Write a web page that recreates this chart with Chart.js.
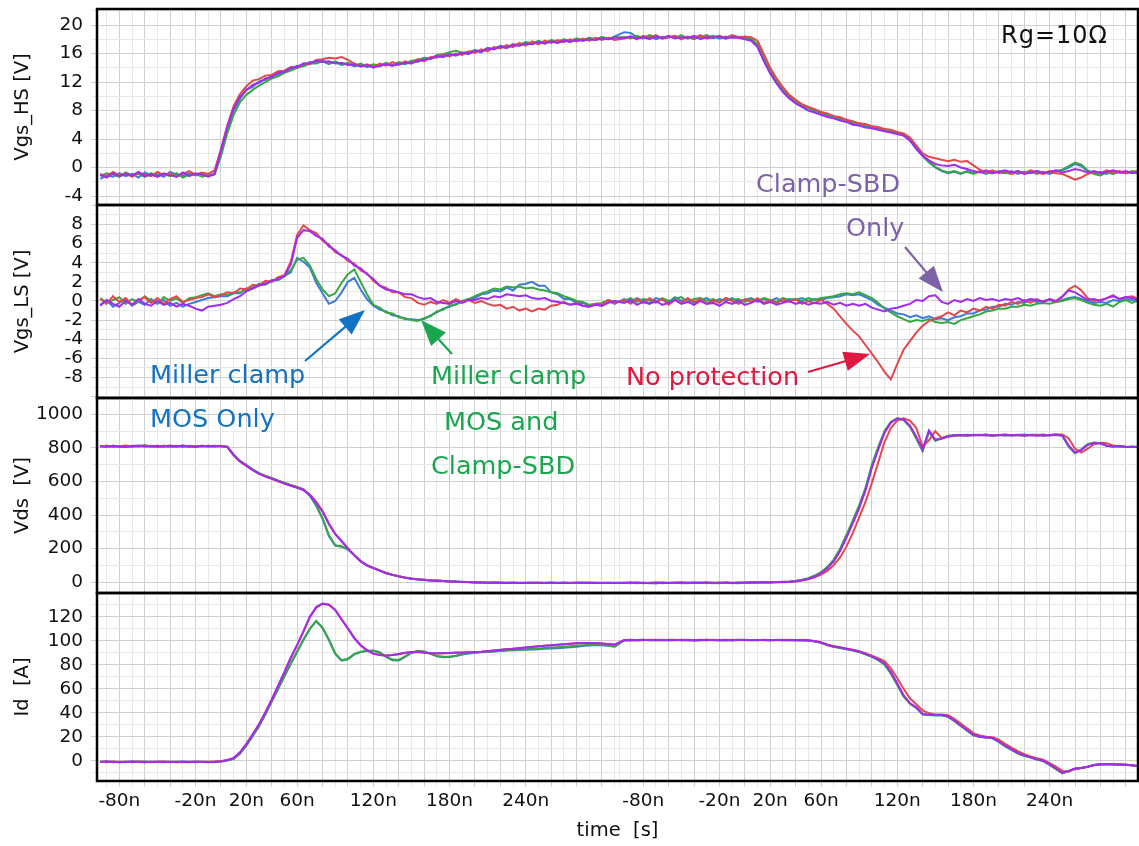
<!DOCTYPE html>
<html>
<head>
<meta charset="utf-8">
<script src="https://cdn.jsdelivr.net/npm/chart.js@4.4.0/dist/chart.umd.min.js"></script>
<style>
  html, body { margin: 0; padding: 0; background: #fff; }
  #wrap { position: relative; width: 1139px; height: 846px; overflow: hidden; background: #fff; font-family: 'DejaVu Sans', sans-serif; }
  #wrap canvas { position: absolute; left: 0; }
  .note { position: absolute; font-size: 25.5px; line-height: 25px; white-space: nowrap; }
  #arrows { position: absolute; left: 0; top: 0; }
</style>
</head>
<body>
<div id="wrap">
  <canvas id="hs" width="1139" height="207" style="top:0px"></canvas>
  <canvas id="ls" width="1139" height="197" style="top:203px"></canvas>
  <canvas id="vds" width="1139" height="199" style="top:396px"></canvas>
  <canvas id="id" width="1139" height="255" style="top:591px"></canvas>
  <svg id="arrows" width="1139" height="846"></svg>
  <div class="note" style="left:1001px;top:23px;font-size:24px;letter-spacing:1px;color:#111">Rg=10Ω</div>
  <div class="note" style="left:756px;top:171px;color:#7d62a8">Clamp-SBD</div>
  <div class="note" style="left:846px;top:215px;color:#7d62a8">Only</div>
  <div class="note" style="left:150px;top:362px;color:#1272c4">Miller clamp</div>
  <div class="note" style="left:150px;top:406px;color:#1272c4">MOS Only</div>
  <div class="note" style="left:431px;top:363px;color:#19a64f">Miller clamp</div>
  <div class="note" style="left:444px;top:409px;color:#19a64f">MOS and</div>
  <div class="note" style="left:431px;top:453px;color:#19a64f">Clamp-SBD</div>
  <div class="note" style="left:626px;top:364px;color:#e0173f">No protection</div>
</div>
<script>
// sample times (ns) inside each capture window; the turn-off window sits after the turn-on one
const T = [-95,-90,-85,-80,-75,-70,-65,-60,-55,-50,-45,-40,-35,-30,-25,-20,-15,-10,-5,0,
  5,10,15,20,25,30,35,40,45,50,55,60,65,70,75,80,85,90,95,100,
  105,110,115,120,125,130,135,140,145,150,155,160,165,170,175,180,185,190,195,200,
  205,210,215,220,225,230,235,240,245,250,255,260,265,270,275,280,285,290,295,300,
  305,310]
const OFF_SHIFT = 412.5   // turn-off window starts right after the turn-on one
const BREAK = 314
const X_MIN = -97.6
const X_MAX = 722.1
const X_LABEL_TIMES = [-80, -20, 20, 60, 120, 180, 240]

// Vgs high side [V]
const HS_ON_R = [-0.9,-1.2,-0.6,-1.1,-0.8,-1.3,-0.7,-1.0,-1.2,-0.6,
  -1.1,-0.8,-1.3,-0.9,-0.5,-1.0,-0.7,-0.9,-0.4,2.6,
  5.9,8.6,10.3,11.4,12.2,12.4,12.9,13.0,13.5,13.6,
  14.1,14.0,14.6,14.5,15.1,15.2,15.4,15.3,15.5,15.1,
  14.6,14.2,14.5,14.1,14.6,14.3,14.8,14.4,14.9,14.6,
  15.2,14.9,15.5,15.4,15.9,15.6,16.0,15.8,16.3,16.1,
  16.6,16.3,16.9,16.7,17.2,16.9,17.5,17.1,17.7,17.3,
  17.8,17.5,17.9,17.6,18.0,17.7,18.1,17.8,18.2,17.9,
  18.2,17.9]
const HS_ON_B = [-1.6,-1.1,-1.3,-0.8,-1.2,-0.9,-1.4,-0.7,-1.1,-0.9,
  -1.3,-0.6,-1.0,-1.2,-0.8,-1.1,-0.9,-1.2,-0.8,2.2,
  5.5,8.0,9.7,10.9,11.3,12.1,12.3,12.9,13.0,13.6,
  13.8,14.3,14.3,14.8,14.7,15.0,14.6,14.8,14.4,14.6,
  14.2,14.5,14.1,14.4,14.2,14.6,14.3,14.7,14.5,14.9,
  14.8,15.3,15.2,15.7,15.5,15.9,15.7,16.1,15.9,16.4,
  16.2,16.7,16.6,17.0,16.8,17.3,17.1,17.5,17.3,17.7,
  17.4,17.8,17.5,17.9,17.6,18.1,17.8,18.1,17.9,18.3,
  18.0,18.4]
const HS_ON_G = [-1.2,-0.8,-1.0,-1.3,-0.7,-1.1,-0.9,-1.3,-0.8,-1.2,
  -0.9,-1.2,-0.8,-1.4,-1.0,-0.9,-1.3,-1.1,-1.0,1.6,
  4.8,7.4,9.2,10.2,10.9,11.5,12.0,12.5,12.8,13.3,
  13.6,14.0,14.2,14.6,14.6,14.9,14.5,14.9,14.5,14.7,
  14.3,14.6,14.2,14.5,14.3,14.7,14.4,14.8,14.6,15.0,
  15.1,15.4,15.3,15.8,15.9,16.2,16.4,16.1,16.2,16.5,
  16.3,16.8,16.6,17.1,16.9,17.3,17.2,17.6,17.4,17.8,
  17.5,17.9,17.7,18.0,17.8,18.1,17.9,18.2,18.0,18.3,
  18.1,18.3]
const HS_ON_P = [-1.0,-1.4,-0.8,-1.2,-0.9,-1.1,-0.6,-1.2,-1.0,-1.3,
  -0.8,-1.1,-1.3,-0.7,-1.2,-0.8,-1.0,-1.3,-0.9,2.4,
  5.7,8.3,9.9,10.9,11.6,11.9,12.5,12.7,13.3,13.4,
  14.0,14.1,14.6,14.6,15.0,14.8,14.9,14.6,14.7,14.4,
  14.5,14.2,14.4,14.0,14.3,14.5,14.3,14.5,14.7,14.6,
  15.0,15.1,15.3,15.6,15.6,15.9,15.8,16.1,16.0,16.4,
  16.3,16.7,16.6,17.0,16.8,17.2,17.1,17.4,17.3,17.6,
  17.4,17.7,17.5,17.8,17.7,17.9,17.8,18.0,17.9,18.1,
  18.0,18.2]
const HS_OFF_R = [18.1,18.4,18.0,18.5,18.2,18.6,18.1,18.3,18.5,18.0,
  18.4,18.2,18.6,18.1,18.3,18.5,18.2,18.6,18.3,18.4,
  18.3,17.8,15.9,14.0,12.5,11.3,10.2,9.5,8.9,8.5,
  8.2,7.8,7.6,7.2,7.1,6.7,6.5,6.2,6.1,5.8,
  5.7,5.4,5.3,5.0,4.8,4.2,3.1,2.0,1.5,1.3,
  1.1,0.9,1.1,0.8,0.9,0.3,-0.3,-0.7,-0.4,-0.8,
  -0.5,-0.9,-0.6,-0.8,-0.4,-0.7,-0.9,-0.5,-0.8,-0.9,
  -1.3,-1.7,-1.4,-0.9,-0.6,-0.8,-0.4,-0.7,-0.5,-0.8,
  -0.6,-0.5]
const HS_OFF_B = [19.0,18.9,18.3,18.1,18.4,18.0,18.3,18.2,18.5,18.1,
  18.3,18.0,18.4,18.2,18.5,18.1,18.4,18.2,18.3,18.1,
  18.0,17.2,15.1,13.4,11.9,10.8,9.9,9.3,8.6,8.4,
  7.9,7.8,7.3,7.2,6.8,6.7,6.2,6.2,5.8,5.8,
  5.4,5.4,5.0,4.9,4.5,3.8,2.6,1.6,0.7,0.0,
  -0.5,-0.8,-0.6,-0.9,-0.5,-0.8,-0.6,-0.9,-0.5,-0.7,
  -0.8,-0.5,-0.9,-0.6,-0.8,-0.5,-0.7,-0.9,-0.6,-0.4,
  0.0,0.5,0.2,-0.5,-0.8,-0.6,-0.9,-0.5,-0.7,-0.8,
  -0.6,-0.9]
const HS_OFF_G = [18.3,18.1,18.5,18.2,18.6,18.3,18.1,18.4,18.2,18.6,
  18.1,18.4,18.3,18.6,18.2,18.4,18.1,18.5,18.3,18.2,
  18.1,17.3,15.3,13.5,12.1,10.9,10.0,9.2,8.8,8.3,
  8.1,7.6,7.5,7.0,7.0,6.5,6.4,6.0,6.0,5.6,
  5.6,5.2,5.2,4.7,4.6,3.9,2.8,1.7,0.8,0.1,
  -0.4,-0.7,-0.5,-0.8,-0.6,-0.9,-0.5,-0.7,-0.8,-0.5,
  -0.7,-0.9,-0.5,-0.8,-0.6,-0.9,-0.6,-0.8,-0.5,-0.3,
  0.2,0.7,0.4,-0.4,-0.9,-1.1,-0.7,-0.9,-0.6,-0.8,
  -0.5,-0.7]
const HS_OFF_P = [18.2,18.4,18.1,18.3,18.0,18.4,18.2,18.5,18.1,18.3,
  18.2,18.5,18.0,18.3,18.2,18.4,18.1,18.3,18.2,18.0,
  17.8,16.9,14.9,13.2,11.8,10.6,9.7,9.0,8.5,8.0,
  7.7,7.4,7.1,6.9,6.6,6.4,6.0,5.9,5.6,5.5,
  5.3,5.1,4.9,4.7,4.5,3.8,2.7,1.7,1.0,0.5,
  0.3,0.2,0.4,0.0,-0.2,-0.5,-0.7,-0.4,-0.8,-0.6,
  -0.4,-0.7,-0.5,-0.9,-0.7,-0.5,-0.8,-0.6,-0.4,-0.7,
  -0.5,-0.2,-0.4,-0.7,-0.5,-0.8,-0.6,-0.4,-0.7,-0.5,
  -0.8,-0.6]

// Vgs low side [V]
const LS_ON_R = [0.2,-0.3,0.5,-0.1,0.3,-0.4,0.1,0.4,-0.2,0.3,
  -0.3,0.2,0.5,-0.1,0.1,0.3,0.4,0.7,0.4,0.6,
  0.9,0.8,1.3,1.2,1.7,1.6,2.1,2.0,2.5,2.7,
  4.1,6.9,7.9,7.4,7.1,6.3,5.9,5.1,4.8,4.2,
  3.9,3.2,2.9,2.1,1.6,1.4,0.9,0.9,0.4,0.3,
  -0.2,-0.4,-0.1,-0.3,0.1,-0.2,0.2,-0.1,0.1,-0.2,
  0.0,-0.3,-0.5,-0.4,-0.8,-0.6,-1.0,-0.8,-1.1,-0.8,
  -0.9,-0.5,-0.4,-0.1,-0.4,-0.2,-0.5,-0.6,-0.3,-0.4,
  0.1,-0.2]
const LS_ON_B = [-0.4,0.1,-0.6,-0.2,0.2,-0.5,-0.1,-0.4,0.2,-0.3,
  0.1,-0.5,-0.2,-0.6,-0.3,-0.1,0.1,0.3,0.4,0.5,
  0.5,0.8,0.8,1.3,1.4,1.8,1.8,2.2,2.2,2.6,
  3.0,4.5,4.1,3.5,1.9,0.8,-0.3,0.0,0.9,2.0,
  2.4,1.2,0.2,-0.5,-0.9,-1.1,-1.5,-1.6,-1.9,-1.9,
  -2.0,-1.9,-1.5,-1.2,-0.8,-0.6,-0.3,-0.1,0.2,0.3,
  0.7,0.8,1.1,1.0,1.4,1.1,1.7,1.8,2.0,1.6,
  1.6,0.9,0.7,0.2,0.2,-0.2,-0.2,-0.5,-0.4,-0.5,
  0.0,-0.3]
const LS_ON_G = [0.3,-0.2,0.1,0.4,-0.3,0.2,-0.1,0.5,0.0,-0.3,
  0.4,0.0,0.3,-0.2,0.3,0.4,0.6,0.8,0.5,0.7,
  0.6,0.9,0.9,1.2,1.3,1.7,1.7,2.1,2.2,2.6,
  3.2,4.3,4.5,3.7,2.3,1.2,0.5,0.8,1.9,2.8,
  3.3,2.0,0.7,-0.4,-0.7,-1.2,-1.3,-1.7,-1.8,-2.0,
  -2.1,-1.8,-1.6,-1.1,-0.9,-0.5,-0.4,0.0,0.2,0.5,
  0.8,1.0,1.3,1.2,1.5,1.4,1.5,1.3,1.4,1.2,
  1.1,0.9,0.8,0.5,0.3,0.0,-0.1,-0.4,-0.3,-0.2,
  0.1,-0.1]
const LS_ON_P = [-0.5,0.1,-0.3,-0.6,0.0,-0.4,0.2,-0.3,-0.5,0.0,
  -0.4,-0.2,-0.6,-0.3,-0.5,-0.8,-1.0,-0.6,-0.5,-0.4,
  -0.2,0.2,0.5,1.0,1.3,1.6,1.8,2.1,2.3,2.6,
  3.8,6.6,7.4,7.3,6.8,6.5,5.7,5.3,4.7,4.4,
  3.7,3.4,2.8,2.3,1.6,1.2,1.1,0.9,0.7,0.7,
  0.4,0.2,0.3,-0.1,-0.2,-0.3,0.0,-0.2,0.1,0.1,
  0.3,0.2,0.5,0.4,0.7,0.6,0.5,0.6,0.3,0.2,
  0.3,0.0,-0.1,-0.2,-0.4,-0.3,-0.5,-0.6,-0.4,-0.5,
  -0.2,0.0]
const LS_OFF_R = [0.1,-0.3,0.2,-0.2,0.3,-0.1,0.2,-0.4,0.1,-0.2,
  0.3,-0.1,0.2,-0.3,0.1,-0.2,0.3,0.0,-0.3,0.2,
  -0.1,0.3,-0.2,0.1,-0.3,0.2,-0.1,0.2,-0.3,0.0,
  -0.2,0.1,-0.3,-0.8,-1.6,-2.4,-3.1,-3.7,-4.6,-5.5,
  -6.4,-7.4,-8.2,-6.6,-5.1,-4.2,-3.3,-2.6,-2.1,-1.8,
  -1.6,-1.2,-1.5,-1.0,-1.2,-0.8,-1.0,-0.6,-0.8,-0.4,
  -0.5,-0.1,-0.3,0.1,-0.2,0.2,-0.1,0.2,-0.1,0.4,
  1.2,1.6,1.1,0.3,0.0,0.1,0.3,0.6,0.2,0.4,
  0.5,0.2]
const LS_OFF_B = [0.2,-0.1,0.3,0.0,-0.2,0.3,0.1,-0.1,0.4,0.0,
  0.2,-0.2,0.1,0.3,-0.1,0.2,0.0,0.3,-0.1,0.1,
  0.3,-0.1,0.2,0.0,0.3,-0.1,0.2,0.1,0.3,0.0,
  0.2,0.1,0.3,0.4,0.5,0.7,0.6,0.7,0.4,0.1,
  -0.4,-0.7,-1.0,-1.3,-1.4,-1.7,-1.5,-1.8,-1.6,-1.9,
  -1.8,-2.0,-1.7,-1.6,-1.3,-1.3,-1.0,-0.9,-0.6,-0.6,
  -0.3,-0.4,-0.1,-0.2,0.1,-0.1,0.0,0.1,-0.1,0.1,
  0.3,0.4,0.2,0.0,-0.2,-0.1,-0.2,0.1,0.0,0.2,
  0.1,-0.1]
const LS_OFF_G = [0.0,0.3,-0.1,0.2,0.1,-0.2,0.3,0.0,0.2,0.4,
  -0.1,0.2,0.3,0.0,0.2,-0.1,0.3,0.1,0.2,-0.1,
  0.2,0.0,0.3,0.1,-0.1,0.3,0.1,0.2,0.0,0.3,
  0.1,0.3,0.4,0.5,0.7,0.8,0.7,0.9,0.6,0.3,
  -0.2,-0.8,-1.2,-1.6,-1.9,-2.2,-2.0,-2.1,-1.9,-2.2,
  -2.3,-2.2,-2.4,-2.0,-1.8,-1.6,-1.4,-1.1,-1.0,-0.8,
  -0.8,-0.6,-0.6,-0.4,-0.5,-0.3,-0.2,-0.3,-0.1,0.0,
  0.2,0.3,0.1,-0.2,-0.4,-0.5,-0.3,-0.6,-0.1,0.1,
  -0.2,0.1]
const LS_OFF_P = [-0.2,0.1,-0.4,-0.1,-0.3,0.0,-0.4,-0.2,0.1,-0.3,
  -0.1,-0.4,0.0,-0.3,-0.2,-0.5,-0.1,-0.3,0.0,-0.4,
  -0.2,0.1,-0.3,-0.1,-0.4,-0.2,0.0,-0.3,-0.1,-0.4,
  -0.2,-0.3,-0.1,-0.4,-0.2,-0.5,-0.3,-0.5,-0.3,-0.7,
  -0.9,-1.1,-0.8,-0.7,-0.5,-0.3,0.1,0.0,0.5,0.6,
  -0.1,-0.3,0.1,-0.1,0.2,0.0,0.3,0.1,0.2,0.0,
  0.2,0.1,0.3,0.0,0.2,0.1,-0.1,0.2,0.0,0.5,
  1.1,0.9,0.5,0.1,0.2,0.0,0.3,0.5,0.2,0.4,
  0.3,0.1]

// Vds [V]
const VDS_ON_R = [808,812,806,810,814,807,811,809,813,806,
  810,814,808,812,807,811,809,813,808,811,
  804,755,718,693,667,646,630,616,601,588,
  576,564,550,522,478,425,350,290,246,203,
  161,126,101,85,70,56,45,36,28,22,
  18,15,12,10,8,5,3,2,1,0,
  -1,-2,-3,-2,-4,-3,-5,-3,-4,-2,
  -4,-3,-5,-4,-3,-5,-4,-2,-4,-3,
  -5,-4]
const VDS_ON_B = [811,807,813,809,805,812,808,814,810,807,
  812,808,811,806,813,809,812,807,810,812,
  806,757,720,696,669,647,632,618,603,590,
  578,566,552,515,455,378,275,218,212,195,
  160,124,99,84,69,54,44,35,27,21,
  17,14,11,9,7,5,4,2,1,-1,
  -2,-4,-3,-2,-4,-3,-5,-4,-2,-4,
  -5,-3,-4,-2,-5,-4,-3,-5,-3,-4,
  -4,-3]
const VDS_ON_G = [809,813,810,806,812,808,811,815,807,810,
  813,807,810,812,806,811,808,812,809,810,
  808,760,723,698,672,650,634,621,606,593,
  580,568,555,518,458,382,280,220,214,198,
  162,126,101,86,71,56,45,36,28,22,
  18,15,12,10,8,6,4,3,1,0,
  -1,-3,-2,-4,-3,-2,-4,-3,-5,-3,
  -4,-2,-3,-5,-4,-3,-2,-4,-3,-5,
  -3,-4]
const VDS_ON_P = [810,807,813,809,805,811,814,808,810,812,
  807,811,809,814,810,806,812,810,813,809,
  806,758,721,694,669,647,629,617,602,587,
  575,563,548,518,474,420,345,286,244,200,
  160,125,100,84,69,54,44,35,27,21,
  17,14,11,9,7,5,3,1,0,-1,
  -2,-3,-2,-4,-3,-4,-3,-5,-3,-4,
  -3,-5,-4,-3,-4,-2,-4,-3,-5,-4,
  -3,-4]
const VDS_OFF_R = [-3,-5,-2,-6,-3,-4,-1,-5,-4,-2,
  -6,-3,-4,-2,-5,-3,-1,-4,-6,-3,
  -3,-1,0,-2,1,0,2,5,10,17,
  29,45,68,102,148,212,292,385,478,590,
  712,835,918,962,976,962,920,808,845,900,
  858,866,872,876,874,878,875,877,874,876,
  879,875,877,873,876,878,874,877,879,880,
  858,795,772,795,822,830,828,814,809,807,
  806,804]
const VDS_OFF_B = [-5,-2,-6,-3,-4,-7,-2,-5,-3,-6,
  -4,-1,-5,-3,-6,-2,-4,-5,-1,-3,
  -2,0,-1,1,0,2,3,7,13,21,
  36,56,86,128,192,272,358,448,552,688,
  795,893,952,975,968,930,862,785,900,845,
  855,870,874,877,873,876,878,874,877,875,
  878,874,876,879,875,877,873,876,878,872,
  812,770,790,820,830,826,812,808,811,806,
  808,805]
const VDS_OFF_G = [-3,-6,-2,-5,-4,-1,-6,-3,-5,-2,
  -5,-3,-2,-6,-1,-4,-3,-6,-2,-4,
  -1,1,-2,0,2,1,4,8,15,24,
  40,60,92,135,200,282,368,458,562,700,
  805,900,955,976,966,926,855,780,895,842,
  858,872,876,874,878,875,877,879,874,876,
  873,877,875,872,878,876,879,874,877,874,
  808,768,792,822,832,827,813,807,810,806,
  807,804]
const VDS_OFF_P = [-4,-1,-5,-3,-6,-2,-4,-5,-2,-3,
  -2,-5,-3,-1,-4,-6,-2,-3,-5,-2,
  0,-2,1,-1,1,3,2,6,12,20,
  34,53,83,124,186,265,350,440,545,680,
  790,890,950,975,970,933,866,790,903,848,
  856,868,875,876,874,877,875,878,873,876,
  877,875,878,874,876,873,877,875,879,873,
  814,772,788,818,829,827,813,809,810,807,
  806,806]

// Id [A]
const ID_ON_R = [-0.8,-1.1,-0.7,-1.2,-0.9,-1,-0.6,-1.2,-0.8,-1.1,
  -0.7,-1.1,-0.9,-1.3,-0.8,-1,-0.9,-1.1,-0.7,-0.5,
  0.5,2,6.8,13.8,21.8,30.2,40.2,50.8,62.2,73.6,
  85.6,96.2,107.6,119.6,127.6,130.8,130,125.8,118,110.5,
  102.5,96.3,92.2,89.3,88.2,87.6,88,88.8,89.8,90.3,
  90.6,90.2,89.6,89.4,89.6,89.7,90.1,90.2,90.4,90.6,
  90.9,91.4,91.9,92.4,93,93.4,94,94.4,95,95.4,
  95.9,96.3,96.7,97.1,97.5,97.9,98.1,98,97.9,97.6,
  97.1,96.7]
const ID_ON_B = [-0.9,-1.3,-0.8,-1,-1.2,-0.7,-1,-1.3,-0.9,-1.1,
  -1.2,-0.9,-1.1,-0.7,-1,-1.2,-0.8,-1.1,-1.2,-0.7,
  0.2,1.5,5.9,12.6,20.4,28.8,38.6,49.3,59.8,70.3,
  80.8,90.8,100.8,109.8,116.3,110.5,100.5,89,83.3,84.5,
  88.6,90.5,91.6,91.8,90.4,86.6,83.8,83.6,86.6,89.8,
  91.3,90.8,89,87,86.3,86.4,87.2,88.4,89.3,90,
  90.3,90.6,91,91.4,91.8,92.1,92.3,92.5,92.7,92.9,
  93.2,93.5,93.8,94.2,94.6,95,95.5,96,96.4,96.3,
  95.8,95]
const ID_ON_G = [-1.1,-0.7,-1,-1.3,-0.8,-1.2,-0.9,-0.6,-1.1,-1,
  -0.8,-1.2,-0.9,-1,-1.3,-0.8,-1.1,-0.9,-1,-0.6,
  0.3,1.6,6,12.8,20.6,29,38.8,49.5,60,70.5,
  81,91,101,110,116.5,111,101,89.5,83.8,85,
  89,90.8,91.5,91.5,90,87,84.3,84,87,90,
  91.5,91,89.2,87.3,86.6,86.7,87.5,88.7,89.5,90.2,
  90.5,90.8,91.2,91.7,92.1,92.4,92.6,92.9,93.2,93.5,
  93.9,94.3,94.6,95,95.4,95.8,96.2,96.6,96.9,96.5,
  96,95.2]
const ID_ON_P = [-1,-0.5,-1.2,-0.8,-1,-0.6,-1.1,-0.9,-1.3,-0.7,
  -1,-0.8,-1.2,-0.9,-1.1,-0.7,-1,-1.2,-0.9,-0.4,
  0.6,2.2,7,14,22,30.5,40.5,51,62.5,74,
  86,96.5,108,120,128,131,130,125.5,117.5,110,
  102,96,92,89,88,87.5,88,89,90,90.5,
  90.8,90,89.5,89.5,89.5,89.8,90,90,90.3,90.5,
  90.8,91.3,91.8,92.3,92.8,93.3,93.8,94.3,94.8,95.3,
  95.8,96.2,96.6,97,97.4,97.8,98,98,98,97.6,
  97.2,96.8]
const ID_OFF_R = [100.5,100.2,100.6,100.4,100.7,100.3,100.6,100.5,100.8,100.4,
  100.6,100.2,100.5,100.7,100.3,100.6,100.4,100.7,100.5,100.3,
  100.5,100.6,100.3,100.6,100.4,100.5,100.7,100.3,100.6,100.4,
  99.8,98.8,96.8,95.5,94.6,93.5,92.5,91.3,89.5,87.6,
  85.5,83,77,69,60,52,47,42,39.5,38.5,
  38.5,38,35,31,27,23,21,20,19.5,17.5,
  14,11,8,5.5,3.5,2,0.8,-2,-5,-8.5,
  -9,-7,-6,-5,-3.5,-3,-2.8,-3,-3.2,-3.3,
  -3.8,-4.5]
const ID_OFF_B = [100.3,100.6,100.4,100.7,100.3,100.5,100.8,100.4,100.6,100.5,
  100.4,100.6,100.3,100.7,100.5,100.4,100.6,100.3,100.7,100.5,
  100.3,100.5,100.6,100.4,100.5,100.7,100.3,100.5,100.4,100.2,
  99.5,98.3,96.3,95,94.1,93,92,90.8,88.8,86.7,
  84,80.5,73,63.8,54,47.8,44.2,38.8,38.1,37.9,
  37.9,36.8,33.2,29.2,25.2,21.3,19.9,19.4,18.9,15.8,
  12.2,9.2,6.2,4.2,2.8,1,-0.2,-3.2,-6.8,-10.5,
  -8.6,-6.6,-6,-5,-3.5,-3.1,-2.9,-3,-3.2,-3.4,
  -3.8,-4.6]
const ID_OFF_G = [100.6,100.3,100.5,100.8,100.4,100.6,100.3,100.7,100.5,100.4,
  100.7,100.4,100.5,100.3,100.8,100.4,100.6,100.3,100.5,100.7,
  100.4,100.6,100.5,100.3,100.7,100.4,100.5,100.6,100.3,100.1,
  99.4,98.2,96.2,94.9,94,92.9,91.9,90.6,88.6,86.5,
  83.8,80,72.5,63,53.5,47.5,44,38.5,38,37.8,
  37.8,36.6,33,29,25,21.2,19.8,19.3,18.8,15.6,
  12,9,6,4,2.6,0.9,-0.3,-3.4,-7,-10.3,
  -8.8,-6.7,-6.1,-5.1,-3.6,-3,-2.9,-3.1,-3.3,-3.4,
  -3.9,-4.6]
const ID_OFF_P = [100.4,100.7,100.3,100.6,100.5,100.8,100.4,100.6,100.3,100.7,
  100.5,100.3,100.7,100.4,100.6,100.5,100.8,100.4,100.6,100.5,
  100.6,100.4,100.7,100.5,100.6,100.3,100.6,100.4,100.5,100.2,
  99.6,98.5,96.5,95.2,94.3,93.2,92.2,91,89,87,
  84.5,81,74,64.5,54.5,48,44.5,39,38.2,38,
  38,37,33.5,29.5,25.5,21.5,20,19.5,19,16,
  12.5,9.5,6.5,4.5,3,1.2,0,-3,-6.5,-10,
  -8.5,-6.5,-6,-5,-3.5,-3,-2.8,-3,-3.2,-3.3,
  -3.8,-4.5]

// series, first one is drawn on top
const SERIES = [
  { key: 'P', name: 'Clamp-SBD Only', color: '#a12cf0' },
  { key: 'R', name: 'No protection', color: '#e4474c' },
  { key: 'G', name: 'Miller clamp MOS and Clamp-SBD', color: '#35a843' },
  { key: 'B', name: 'Miller clamp MOS Only', color: '#3b7bdc' }
]

const PANELS = [
  { id: 'hs', title: 'Vgs_HS [V]', min: -5.26, max: 22.25, step: 2, labels: [-4, 0, 4, 8, 12, 16, 20],
    on: { R: HS_ON_R, B: HS_ON_B, G: HS_ON_G, P: HS_ON_P }, off: { R: HS_OFF_R, B: HS_OFF_B, G: HS_OFF_G, P: HS_OFF_P },
    pad: { top: 9, bottom: 2 }, width: 2 },
  { id: 'ls', title: 'Vgs_LS [V]', min: -10.14, max: 10.03, step: 1, labels: [-8, -6, -4, -2, 0, 2, 4, 6, 8],
    on: { R: LS_ON_R, B: LS_ON_B, G: LS_ON_G, P: LS_ON_P }, off: { R: LS_OFF_R, B: LS_OFF_B, G: LS_OFF_G, P: LS_OFF_P },
    pad: { top: 2, bottom: 2 }, width: 2 },
  { id: 'vds', title: 'Vds  [V]', min: -64, max: 1097, step: 100, labels: [0, 200, 400, 600, 800, 1000],
    on: { R: VDS_ON_R, B: VDS_ON_B, G: VDS_ON_G, P: VDS_ON_P }, off: { R: VDS_OFF_R, B: VDS_OFF_B, G: VDS_OFF_G, P: VDS_OFF_P },
    pad: { top: 2, bottom: 2 }, width: 2 },
  { id: 'id', title: 'Id  [A]', min: -16.9, max: 139.75, step: 10, labels: [0, 20, 40, 60, 80, 100, 120],
    on: { R: ID_ON_R, B: ID_ON_B, G: ID_ON_G, P: ID_ON_P }, off: { R: ID_OFF_R, B: ID_OFF_B, G: ID_OFF_G, P: ID_OFF_P },
    pad: { top: 2, bottom: 0 }, width: 2, bottom: true }
]

const MAJOR = '#cfcfcf'
const MINOR = '#e9e9e9'

Chart.defaults.font.family = "'DejaVu Sans', sans-serif"
Chart.defaults.color = '#111'

// x gridlines: every 10 ns inside each window, plus the window seam
const X_GRID = []
for (let t = -90; t <= 310; t += 10) X_GRID.push(t)
X_GRID.push(BREAK)
for (let t = -90; t <= 300; t += 10) X_GRID.push(t + OFF_SHIFT)

function localTime(v) {
  return v > BREAK ? v - OFF_SHIFT : v
}

function joinSegments(on, off) {
  if (on.length !== T.length || off.length !== T.length) throw new Error('bad length ' + on.length + '/' + off.length)
  const pts = T.map((t, k) => ({ x: t, y: on[k] }))
  return pts.concat(T.map((t, k) => ({ x: t + OFF_SHIFT, y: off[k] })))
}

// no extra room for half tick labels, the panels butt together
function noPad(s) {
  s.paddingTop = 0
  s.paddingBottom = 0
  s.paddingLeft = 0
  s.paddingRight = 0
}

const frame = {
  id: 'frame',
  afterDatasetsDraw(chart) {
    const { ctx, chartArea: a } = chart
    ctx.save()
    ctx.strokeStyle = '#000'
    ctx.lineWidth = 2.5
    ctx.strokeRect(a.left, a.top, a.right - a.left, a.bottom - a.top)
    ctx.restore()
  }
}

PANELS.forEach(p => {
  const yGrid = []
  for (let v = Math.ceil(p.min / p.step) * p.step; v <= p.max; v += p.step) yGrid.push(Math.round(v * 100) / 100)
  const majorStep = p.labels[1] - p.labels[0]
  const bottom = !!p.bottom

  new Chart(document.getElementById(p.id), {
    type: 'line',
    data: {
      datasets: SERIES.map(s => ({
        label: s.name,
        data: joinSegments(p.on[s.key], p.off[s.key]),
        borderColor: s.color,
        borderWidth: p.width,
        pointRadius: 0,
        tension: 0
      }))
    },
    options: {
      responsive: false,
      animation: false,
      events: [],
      layout: { padding: { top: p.pad.top, bottom: p.pad.bottom, left: 0, right: 1 } },
      plugins: { legend: { display: false }, tooltip: { enabled: false } },
      scales: {
        x: {
          type: 'linear',
          min: X_MIN,
          max: X_MAX,
          afterBuildTicks: s => { s.ticks = X_GRID.map(v => ({ value: v })) },
          afterFit: s => { s.height = bottom ? 65 : 0; noPad(s) },
          ticks: {
            display: bottom,
            autoSkip: false,
            maxRotation: 0,
            minRotation: 0,
            padding: 3,
            font: { size: 18.5 },
            callback: v => {
              const t = Math.round(localTime(v) * 10) / 10
              return (v !== BREAK && X_LABEL_TIMES.includes(t)) ? t + 'n' : ''
            }
          },
          grid: {
            drawTicks: bottom,
            tickLength: 6,
            color: ctx => {
              if (!ctx.tick) return MINOR
              const t = Math.round(localTime(ctx.tick.value) * 10) / 10
              return (ctx.tick.value !== BREAK && t % 20 === 0) ? MAJOR : MINOR
            }
          },
          border: { display: false },
          title: { display: bottom, text: 'time  [s]', font: { size: 19.5 }, padding: { top: 0, bottom: 3 } }
        },
        y: {
          type: 'linear',
          min: p.min,
          max: p.max,
          afterBuildTicks: s => { s.ticks = yGrid.map(v => ({ value: v })) },
          afterFit: s => { s.width = 97; noPad(s) },
          ticks: {
            autoSkip: false,
            padding: 8,
            font: { size: 18.5 },
            callback: v => p.labels.includes(v) ? String(v) : ''
          },
          grid: {
            tickLength: 6,
            color: ctx => (ctx.tick && Math.abs(ctx.tick.value % majorStep) < 1e-6) ? MAJOR : MINOR
          },
          border: { display: false },
          title: { display: true, text: p.title, font: { size: 19.5 }, padding: { top: 11, bottom: 0 } }
        }
      }
    },
    plugins: [frame]
  })
})

// callout arrows (tail -> tip, page pixels)
const ARROWS = [
  { color: '#1272c4', from: [305, 361], to: [365, 310] },
  { color: '#19a64f', from: [452, 354], to: [421, 320] },
  { color: '#e0173f', from: [808, 372], to: [870, 354] },
  { color: '#7d62a8', from: [905, 247], to: [943, 292] }
]
const svg = document.getElementById('arrows')
let html = ''
ARROWS.forEach(a => {
  const [x1, y1] = a.from
  const [x2, y2] = a.to
  const L = Math.hypot(x2 - x1, y2 - y1)
  const ux = (x2 - x1) / L, uy = (y2 - y1) / L
  const hl = 26, hw = 10
  const bx = x2 - ux * hl, by = y2 - uy * hl
  html += `<line x1="${x1}" y1="${y1}" x2="${bx + ux * 2}" y2="${by + uy * 2}" stroke="${a.color}" stroke-width="2.2"/>`
  html += `<polygon points="${x2},${y2} ${bx - uy * hw},${by + ux * hw} ${bx + uy * hw},${by - ux * hw}" fill="${a.color}"/>`
})
svg.innerHTML = html
</script>
</body>
</html>
